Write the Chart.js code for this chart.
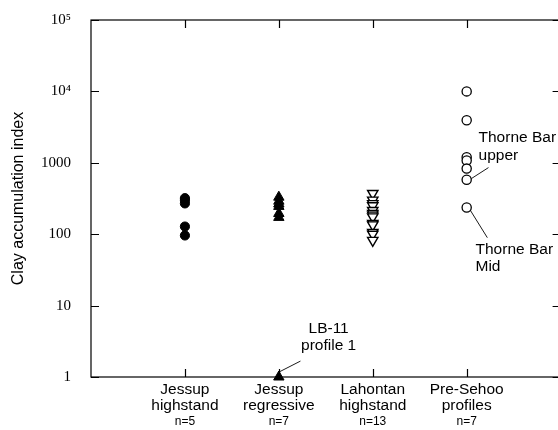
<!DOCTYPE html>
<html><head><meta charset="utf-8">
<script src="https://cdn.jsdelivr.net/npm/chart.js@4/dist/chart.umd.min.js"></script>
<style>
html,body{margin:0;padding:0;background:#fff;overflow:hidden;width:558px;height:430px}
#wrap{width:568px;height:430px;position:relative}
</style></head>
<body><div id="wrap"><canvas id="c" width="568" height="430"></canvas></div>
<script>
// ---- data ----
const categories = [['Jessup','highstand'],['Jessup','regressive'],['Lahontan','highstand'],['Pre-Sehoo','profiles']];
const categoryPositions = [1, 2, 3, 4];
const sampleCounts = ['n=5','n=7','n=13','n=7'];
const yTickValues = [1, 10, 100, 1000, 10000, 100000];
const yTickLabels = ['1', '10', '100', '1000', '10\u2074', '10\u2075'];
const jessupHighstand = [320, 300, 270, 128, 96];
const jessupRegressive = [330, 290, 265, 245, 195, 172, 1];
const lahontanHighstand = [372, 300, 268, 250, 215, 195, 185, 175, 141, 135, 106, 100, 82];
const preSehoo = [10000, 3950, 1200, 1080, 830, 580, 237];
// annotations (data coordinates)
const annotationTexts = [['LB-11','profile 1'], ['Thorne Bar','upper'], ['Thorne Bar','Mid']];
const annotationAnchors = [{x:2.53, y:[4.68, 2.71], align:'center'}, {x:4.126, y:[2250, 1260], align:'left'}, {x:4.094, y:[61.3, 35.6], align:'left'}];
const annotationLeaders = [[{x:2.23, y:1.67},{x:2.0, y:1.17}], [{x:4.232, y:857},{x:4.05, y:601}], [{x:4.04, y:215},{x:4.22, y:89.4}]];

function pts(cat, arr){ return arr.map(v => ({x: categoryPositions[cat], y: v})); }

const framePlugin = {
  id: 'frame',
  afterDatasetsDraw(chart){
    const {ctx, chartArea: a, scales} = chart;
    ctx.save();
    ctx.strokeStyle = '#000';
    ctx.lineWidth = 1.2;
    ctx.strokeRect(a.left, a.top, a.right - a.left, a.bottom - a.top);
    ctx.beginPath();
    const y = scales.y, x = scales.x;
    y.ticks.forEach(t => {
      const py = Math.round(y.getPixelForValue(t.value)) + 0.5;
      ctx.moveTo(a.left, py); ctx.lineTo(a.left + 8, py);
      ctx.moveTo(a.right, py); ctx.lineTo(a.right - 8, py);
    });
    x.ticks.forEach(t => {
      const px = Math.round(x.getPixelForValue(t.value)) + 0.5;
      ctx.moveTo(px, a.bottom); ctx.lineTo(px, a.bottom - 8);
      ctx.moveTo(px, a.top); ctx.lineTo(px, a.top + 8);
    });
    ctx.stroke();
    // annotations
    ctx.lineWidth = 0.9;
    ctx.beginPath();
    annotationLeaders.forEach(l => {
      ctx.moveTo(x.getPixelForValue(l[0].x), y.getPixelForValue(l[0].y));
      ctx.lineTo(x.getPixelForValue(l[1].x), y.getPixelForValue(l[1].y));
    });
    ctx.stroke();
    ctx.fillStyle = '#000';
    ctx.font = '15.5px "Liberation Sans", Arial, sans-serif';
    ctx.textBaseline = 'middle';
    annotationTexts.forEach((lines, i) => {
      const an = annotationAnchors[i];
      ctx.textAlign = an.align;
      lines.forEach((s, j) => {
        ctx.fillText(s, x.getPixelForValue(an.x), y.getPixelForValue(an.y[j]));
      });
    });
    ctx.restore();
  }
};

new Chart(document.getElementById('c'), {
  type: 'scatter',
  data: {
    datasets: [
      {label:'Jessup highstand', data: pts(0, jessupHighstand), pointStyle:'circle', pointRadius:4.6, backgroundColor:'#000', borderColor:'#000', borderWidth:1, clip:false},
      {label:'Jessup regressive', data: pts(1, jessupRegressive), pointStyle:'triangle', pointRadius:6, backgroundColor:'#000', borderColor:'#000', borderWidth:1, clip:false},
      {label:'Lahontan highstand', data: pts(2, lahontanHighstand), pointStyle:'triangle', rotation:180, pointRadius:6, backgroundColor:'#fff', borderColor:'#000', borderWidth:1.4, clip:false},
      {label:'Pre-Sehoo profiles', data: pts(3, preSehoo), pointStyle:'circle', pointRadius:4.6, backgroundColor:'#fff', borderColor:'#000', borderWidth:1.3, clip:false}
    ]
  },
  options: {
    responsive: false,
    animation: false,
    events: [],
    layout: {padding: {top: 20, right: 1, left: 0, bottom: 0}},
    plugins: {legend: {display: false}, tooltip: {enabled: false}},
    scales: {
      x: {
        type: 'linear', position: 'bottom', min: 0, max: 5,
        afterBuildTicks: s => { s.ticks = categoryPositions.map(v => ({value: v})); },
        afterFit: s => { s.height = 37; },
        grid: {drawOnChartArea: false, drawTicks: false},
        border: {display: false},
        ticks: {
          autoSkip: false, maxRotation: 0, padding: 4, color: '#000',
          font: {family: '"Liberation Sans", Arial, sans-serif', size: 15.5, lineHeight: 1.07},
          callback: (v, i) => categories[i]
        }
      },
      xn: {
        type: 'linear', position: 'bottom', min: 0, max: 5,
        afterBuildTicks: s => { s.ticks = categoryPositions.map(v => ({value: v})); },
        afterFit: s => { s.height = 16; },
        grid: {display: false, drawTicks: false},
        border: {display: false},
        ticks: {
          autoSkip: false, maxRotation: 0, padding: 0, color: '#000',
          font: {family: '"Liberation Sans", Arial, sans-serif', size: 12},
          callback: (v, i) => sampleCounts[i]
        }
      },
      y: {
        type: 'logarithmic', position: 'left', min: 1, max: 100000,
        afterBuildTicks: s => { s.ticks = yTickValues.map(v => ({value: v})); },
        afterFit: s => { s.width = 91; },
        grid: {drawOnChartArea: false, drawTicks: true, tickLength: 20, tickColor: 'rgba(0,0,0,0)'},
        border: {display: false},
        ticks: {
          autoSkip: false, padding: 0, color: '#000',
          font: {family: '"Liberation Serif", "Times New Roman", serif', size: 15},
          callback: (v, i) => yTickLabels[i]
        },
        title: {
          display: true, text: 'Clay accumulation index', color: '#000',
          font: {family: '"Liberation Sans", Arial, sans-serif', size: 16},
          padding: {top: 9, bottom: 0}
        }
      }
    }
  },
  plugins: [framePlugin]
});
</script>
</body></html>
